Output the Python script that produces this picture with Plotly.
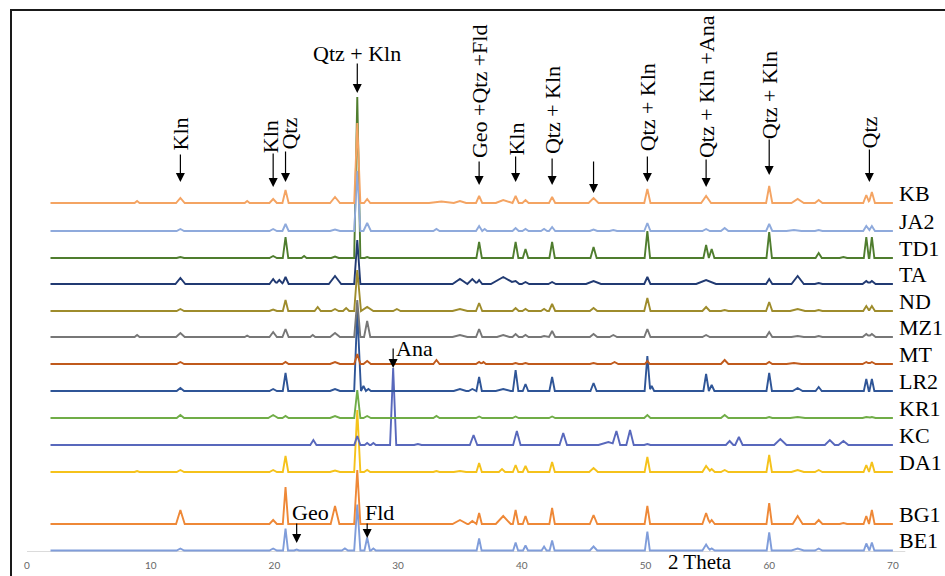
import plotly.graph_objects as go

# ---------------- data ----------------
# sample names, top to bottom as labelled
SAMPLES = ["KB", "JA2", "TD1", "TA", "ND", "MZ1", "MT", "LR2", "KR1", "KC", "DA1", "BG1", "BE1"]
# vertical stacking offset of each pattern (intensity units)
OFFSETS = [349, 321, 294, 268, 241, 215, 188, 161, 134, 107, 80, 28, 1.5]
COLORS = ["#F4A463", "#8FAADC", "#4F7D2E", "#213A72", "#9E8C2C", "#777777", "#C05A1C",
          "#2F5597", "#70AD47", "#5868BC", "#F5C21B", "#EE8837", "#809DDA"]

# peaks of each pattern: (2theta, intensity, half width)
KB = [(8.9, 2, 0.2), (12.4, 5, 0.35), (17.8, 2, 0.2), (19.9, 4, 0.3), (20.9, 13, 0.25), (24.9, 6, 0.4),
      (26.7, 80, 0.25), (27.5, 4, 0.25), (33.5, 1.5, 1.0), (35.0, 2, 0.5), (36.55, 7, 0.25), (38.5, 3, 0.6),
      (39.5, 7, 0.25), (40.3, 3, 0.25), (42.45, 6, 0.25), (45.8, 5, 0.4), (50.15, 14, 0.25), (54.9, 7, 0.4),
      (60.0, 17, 0.25), (62.3, 4, 0.5), (64.0, 3, 0.3), (67.85, 8, 0.25), (68.3, 11, 0.25)]
JA2 = [(12.4, 2, 0.3), (19.9, 2, 0.3), (20.9, 7, 0.25), (24.9, 1.5, 0.4), (26.7, 60, 0.25), (27.5, 8, 0.3),
       (33.1, 2, 0.25), (36.55, 5, 0.25), (37.0, 2, 0.2), (39.5, 3, 0.25), (40.3, 2, 0.25), (41.8, 2, 0.25),
       (42.45, 4, 0.25), (45.8, 1.5, 0.3), (47.4, 1, 0.3), (50.15, 8, 0.25), (54.9, 2, 0.3), (56.4, 3, 0.3),
       (60.0, 7, 0.25), (62.0, 1, 0.6), (64.0, 1, 0.3), (67.85, 5, 0.25), (68.3, 5, 0.25)]
TD1 = [(12.4, 1, 0.3), (19.9, 2, 0.3), (20.9, 21, 0.22), (22.4, 2, 0.2), (24.9, 1.5, 0.3), (26.7, 161, 0.25),
       (27.5, 1, 0.2), (36.55, 16, 0.22), (39.5, 16, 0.22), (40.3, 9, 0.22), (42.45, 16, 0.22), (45.8, 11, 0.25),
       (50.15, 27, 0.22), (54.9, 13, 0.22), (55.35, 9, 0.22), (60.0, 26, 0.22), (64.0, 5, 0.25), (66.0, 1, 0.3),
       (67.85, 21, 0.2), (68.3, 21, 0.2)]
TA = [(12.4, 6, 0.4), (19.9, 5, 0.3), (20.4, 4, 0.3), (20.9, 7, 0.25), (24.9, 8, 0.5), (26.7, 44, 0.25),
      (35.0, 5, 0.6), (36.0, 5, 0.4), (36.55, 4, 0.25), (38.5, 7, 1.0), (39.5, 3, 0.3), (40.3, 2, 0.3),
      (42.45, 2, 0.3), (45.8, 3, 0.6), (50.15, 7, 0.25), (54.9, 4, 0.8), (60.0, 5, 0.25), (62.3, 8, 0.5),
      (64.0, 1, 0.3), (67.85, 3, 0.3), (68.3, 3, 0.3)]
ND = [(12.4, 2, 0.3), (19.9, 1.5, 0.3), (20.9, 11, 0.22), (23.5, 4, 0.25), (24.9, 2, 0.3), (25.8, 3, 0.25),
      (26.7, 41, 0.25), (27.5, 4, 0.5), (29.9, 2, 0.3), (35.0, 2, 0.6), (36.55, 8, 0.25), (39.5, 3, 0.25),
      (40.3, 2, 0.25), (41.8, 2, 0.25), (42.45, 7, 0.25), (45.8, 3, 0.3), (50.15, 13, 0.25), (54.9, 4, 0.3),
      (56.4, 1, 0.3), (60.0, 9, 0.25), (62.3, 2, 0.6), (64.0, 1, 0.3), (67.85, 5, 0.25), (68.3, 5, 0.25)]
MZ1 = [(8.9, 2, 0.2), (12.4, 4, 0.35), (17.8, 1.5, 0.2), (19.9, 5, 0.3), (20.9, 8, 0.25), (23.1, 2, 0.2),
       (24.9, 4, 0.4), (26.7, 37, 0.25), (27.5, 16, 0.25), (35.0, 2, 0.6), (36.55, 8, 0.25), (38.5, 2, 0.5),
       (39.5, 3, 0.25), (40.3, 2, 0.25), (41.8, 1, 0.25), (42.45, 6, 0.25), (45.8, 3, 0.3), (47.4, 2, 0.3),
       (50.15, 8, 0.25), (54.9, 2, 0.3), (60.0, 5, 0.25), (62.3, 1, 0.5), (64.0, 1, 0.3), (67.85, 3, 0.3),
       (68.3, 3, 0.3)]
MT = [(12.4, 2, 0.3), (20.9, 2, 0.25), (24.9, 2, 0.4), (26.7, 10, 0.25), (27.5, 3, 0.3), (33.1, 4, 0.25),
      (36.55, 2, 0.25), (36.9, 2, 0.2), (39.5, 1, 0.25), (40.3, 1, 0.25), (45.8, 1, 0.3), (47.5, 2, 0.3),
      (50.15, 3, 0.2), (56.4, 4, 0.3), (60.0, 2, 0.25), (62.0, 1, 0.6), (67.85, 2, 0.3), (68.3, 2, 0.3)]
LR2 = [(12.4, 3, 0.3), (19.9, 2, 0.3), (20.9, 18, 0.22), (24.9, 2, 0.4), (26.7, 80, 0.25), (27.2, 5, 0.2),
       (27.6, 2, 0.2), (35.0, 2, 0.5), (36.0, 2, 0.3), (36.55, 14, 0.22), (38.5, 2, 0.6), (39.5, 21, 0.22),
       (40.3, 7, 0.22), (42.45, 14, 0.22), (45.8, 8, 0.25), (50.15, 35, 0.22), (50.5, 5, 0.2), (54.9, 17, 0.22),
       (55.35, 6, 0.22), (60.0, 18, 0.22), (62.3, 3, 0.4), (64.0, 4, 0.25), (67.85, 12, 0.2), (68.3, 12, 0.2)]
KR1 = [(12.4, 3, 0.3), (19.9, 3, 0.4), (20.9, 2, 0.25), (24.9, 2, 0.4), (26.7, 28, 0.25), (27.5, 2, 0.3),
       (33.1, 2, 0.25), (36.55, 1.5, 0.25), (39.5, 1.5, 0.25), (42.45, 1.5, 0.25), (50.15, 3, 0.25),
       (56.4, 3, 0.3), (60.0, 1, 0.25), (62.3, 1, 0.6), (67.85, 1, 0.3), (68.3, 1, 0.3)]
KC = [(23.15, 5, 0.25), (26.7, 9, 0.25), (27.5, 2, 0.2), (28.0, 2, 0.2), (29.6, 77, 0.25), (31.6, 1, 0.3),
      (36.1, 10, 0.3), (39.6, 14, 0.3), (43.35, 12, 0.3), (47.0, 3, 0.8), (47.65, 14, 0.3), (48.75, 15, 0.3),
      (50.15, 1, 0.25), (56.8, 4, 0.3), (57.55, 8, 0.3), (60.9, 6, 0.5), (64.9, 5, 0.4), (66.0, 4, 0.4)]
DA1 = [(8.9, 1, 0.2), (12.4, 2, 0.3), (19.9, 2, 0.3), (20.9, 16, 0.22), (24.9, 1.5, 0.4), (26.7, 62, 0.25),
       (27.5, 2, 0.25), (33.1, 1, 0.25), (35.0, 1, 0.5), (36.55, 9, 0.22), (38.4, 3, 0.25), (39.5, 7, 0.22),
       (40.3, 6, 0.22), (42.45, 10, 0.22), (45.8, 4, 0.35), (50.15, 15, 0.22), (54.9, 6, 0.3), (55.35, 3, 0.25),
       (56.4, 2, 0.3), (60.0, 17, 0.22), (62.3, 2, 0.5), (64.0, 2, 0.3), (67.85, 7, 0.22), (68.3, 10, 0.22)]
BG1 = [(12.4, 14, 0.35), (19.9, 4, 0.3), (20.9, 37, 0.22), (24.9, 18, 0.35), (26.7, 54, 0.25), (35.0, 4, 0.6),
       (36.0, 3, 0.3), (36.55, 11, 0.22), (38.5, 8, 0.6), (39.5, 14, 0.22), (40.3, 8, 0.22), (42.45, 16, 0.22),
       (45.8, 9, 0.3), (50.15, 18, 0.22), (54.9, 11, 0.3), (55.35, 4, 0.25), (60.0, 21, 0.22), (62.3, 8, 0.4),
       (64.0, 4, 0.3), (66.0, 1, 0.3), (67.85, 8, 0.22), (68.3, 14, 0.22)]
BE1 = [(12.4, 2, 0.3), (19.9, 2, 0.3), (20.9, 22, 0.2), (21.8, 1, 0.2), (25.7, 2, 0.25), (26.7, 46, 0.25),
       (27.5, 13, 0.22), (28.0, 2, 0.2), (36.55, 12, 0.2), (39.5, 8, 0.2), (40.3, 5, 0.2), (41.8, 4, 0.2),
       (42.45, 10, 0.2), (45.8, 4, 0.3), (50.15, 19, 0.2), (54.9, 6, 0.3), (55.35, 2, 0.25), (60.0, 18, 0.2),
       (62.3, 2, 0.5), (64.0, 2, 0.3), (67.85, 7, 0.2), (68.3, 8, 0.2)]
PEAKS = [KB, JA2, TD1, TA, ND, MZ1, MT, LR2, KR1, KC, DA1, BG1, BE1]
SCAN_START, SCAN_END = 1.9, 70.0

X_TICKS = [0, 10, 20, 30, 40, 50, 60, 70]
X_TITLE = "2 Theta"

# phase markers: 2theta of arrow, label text
MARK_2THETA = [12.4, 19.9, 20.9, 26.7, 36.55, 39.5, 42.45, 45.8, 50.15, 54.9, 60.0, 68.1]
MARK_TEXT = ["Kln", "Kln", "Qtz", "Qtz + Kln", "Geo +Qtz +Fld", "Kln", "Qtz + Kln", "",
             "Qtz + Kln", "Qtz + Kln +Ana", "Qtz + Kln", "Qtz"]
LOW_MARK_2THETA = [29.6, 21.8, 27.5]
LOW_MARK_TEXT = ["Ana", "Geo", "Fld"]

# ---------------- layout helpers (pixel geometry) ----------------
W, H = 945, 576
PLOT_BOTTOM = 552          # pixel row of the x axis
PX_PER_DEG = 12.37
X0_PX = 27                 # pixel column of 2theta = 0


def ydata(py):
    return PLOT_BOTTOM - py


SERIF = "Liberation Serif, Times New Roman, serif"

fig = go.Figure()

# draw bottom pattern first so the upper ones overlay it
for i in reversed(range(len(SAMPLES))):
    peaks = PEAKS[i]
    xs = {SCAN_START, SCAN_END}
    for p, h, w in peaks:
        xs.update([p - w, p, p + w])
    xs = sorted(x for x in xs if SCAN_START <= x <= SCAN_END)
    ys = []
    for x in xs:
        v = 0.0
        for p, h, w in peaks:
            d = abs(x - p)
            if d < w:
                v = max(v, h * (1 - d / w))
        ys.append(OFFSETS[i] + v)
    fig.add_trace(go.Scatter(x=xs, y=ys, mode="lines", name=SAMPLES[i],
                             line=dict(color=COLORS[i], width=1.9), hoverinfo="skip"))

ann = []
# sample labels on the right
for i, s in enumerate(SAMPLES):
    ann.append(dict(x=70.3, y=OFFSETS[i] + 10, text=s, showarrow=False, xanchor="left",
                    yanchor="middle", font=dict(family=SERIF, size=22, color="black")))

# arrows: tail pixel row, tip pixel row, label centre pixel row
ARROW_TAIL = [153, 152, 150, 62, 160, 155, 157, 160, 155, 158, 138, 148]
ARROW_TIP = [182, 187, 182, 93, 185, 182, 185, 193, 182, 187, 175, 182]
TEXT_MID = [134, 137, 134, 53, 91, 139, 110, None, 107, 87, 95, 132]
TEXT_XSHIFT = [0, -3, 3, 0, 0, 0, 0, 0, 0, 0, 0, 0]
for k, t in enumerate(MARK_2THETA):
    ann.append(dict(x=t, y=ydata(ARROW_TIP[k]), ax=0, ay=ARROW_TAIL[k] - ARROW_TIP[k], text="",
                    showarrow=True, arrowhead=2, arrowsize=1.5, arrowwidth=1.2, arrowcolor="black"))
    if MARK_TEXT[k]:
        ann.append(dict(x=t, y=ydata(TEXT_MID[k]), text=MARK_TEXT[k], showarrow=False,
                        textangle=0 if k == 3 else -90, xanchor="center", yanchor="middle",
                        xshift=TEXT_XSHIFT[k],
                        font=dict(family=SERIF, size=22, color="black")))

LOW_TAIL = [347, 522, 522]
LOW_TIP = [368, 543, 538]
LOW_TEXT_X = [31.33, 22.92, 28.46]
LOW_TEXT_MID = [348, 512, 512]
for k, t in enumerate(LOW_MARK_2THETA):
    ann.append(dict(x=t, y=ydata(LOW_TIP[k]), ax=0, ay=LOW_TAIL[k] - LOW_TIP[k], text="",
                    showarrow=True, arrowhead=2, arrowsize=1.5, arrowwidth=1.2, arrowcolor="black"))
    ann.append(dict(x=LOW_TEXT_X[k], y=ydata(LOW_TEXT_MID[k]), text=LOW_MARK_TEXT[k], showarrow=False,
                    xanchor="center", yanchor="middle", font=dict(family=SERIF, size=22, color="black")))

# axis title
ann.append(dict(x=700 / W, y=(PLOT_BOTTOM - 562) / PLOT_BOTTOM, xref="paper", yref="paper",
                text=X_TITLE, showarrow=False, xanchor="center", yanchor="middle",
                font=dict(family=SERIF, size=21, color="black")))

x_min = -X0_PX / PX_PER_DEG
x_max = (W - X0_PX) / PX_PER_DEG

fig.update_layout(
    width=W, height=H,
    margin=dict(l=0, r=0, t=0, b=H - PLOT_BOTTOM),
    paper_bgcolor="white", plot_bgcolor="white",
    showlegend=False,
    annotations=ann,
    xaxis=dict(range=[x_min, x_max], tickvals=X_TICKS, ticks="", showgrid=False, zeroline=False,
               showline=False, tickfont=dict(family="Lato, Open Sans, sans-serif", size=10, color="#666666"),
               ticklabelstandoff=6, fixedrange=True),
    yaxis=dict(range=[0, PLOT_BOTTOM], visible=False, fixedrange=True),
    shapes=[
        # x axis base line
        dict(type="line", xref="x", yref="y", x0=0, x1=71, y0=0, y1=0,
             line=dict(color="#cfcfcf", width=1.5), layer="below"),
        # outer frame
        dict(type="rect", xref="paper", yref="paper", x0=11 / W, x1=1.1,
             y0=-0.2, y1=(PLOT_BOTTOM - 10) / PLOT_BOTTOM,
             line=dict(color="#1a1a1a", width=2), fillcolor="rgba(0,0,0,0)"),
    ],
)

fig.write_html("out.html", config={"displayModeBar": False},
               post_script="document.body.style.margin='0';document.body.style.overflow='hidden';")
